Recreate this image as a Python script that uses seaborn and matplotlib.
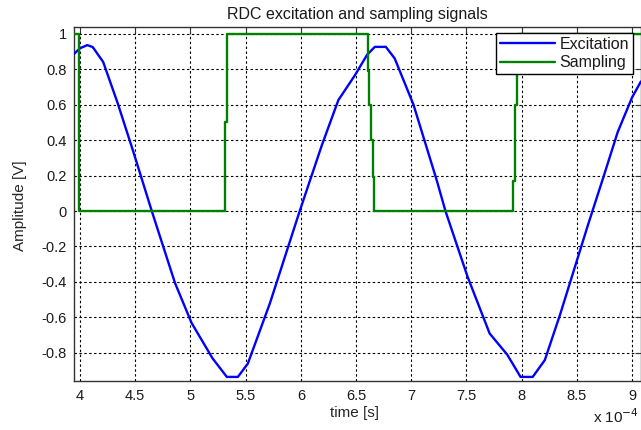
import matplotlib
matplotlib.use("Agg")
import matplotlib.pyplot as plt
from matplotlib.ticker import FuncFormatter
import seaborn as sns
import pandas as pd

# time axis in units of 1e-4 s
exc_t = [3.945, 4.0, 4.066, 4.115, 4.21, 4.34, 4.48, 4.65, 4.86, 5.01, 5.2, 5.33,
         5.43, 5.52, 5.72, 5.99, 6.19, 6.34, 6.49, 6.60, 6.67, 6.77, 6.85, 7.02,
         7.23, 7.31, 7.51, 7.71, 7.87, 7.99, 8.10, 8.21, 8.35, 8.60, 8.74, 8.87,
         9.0, 9.08]
exc_v = [0.885, 0.917, 0.935, 0.924, 0.84, 0.61, 0.34, 0.0, -0.405, -0.63, -0.83, -0.935,
         -0.935, -0.86, -0.52, 0.0, 0.37, 0.625, 0.765, 0.88, 0.925, 0.925, 0.86, 0.6,
         0.175, 0.0, -0.37, -0.69, -0.81, -0.935, -0.935, -0.84, -0.58, -0.08, 0.19, 0.445,
         0.64, 0.73]

samp_t = [3.945, 3.995, 3.995, 5.313, 5.313, 5.329, 5.329, 6.604, 6.604, 6.622, 6.622,
          6.636, 6.636, 6.651, 6.651, 6.663, 6.663, 7.925, 7.925, 7.94, 7.94, 7.955,
          7.955, 7.97, 7.97, 9.08]
samp_v = [1, 1, 0, 0, 0.5, 0.5, 1, 1, 0.79, 0.79, 0.6, 0.6, 0.4, 0.4, 0.19, 0.19, 0,
          0, 0.17, 0.17, 0.6, 0.6, 0.8, 0.8, 1, 1]

x_ticks = [4, 4.5, 5, 5.5, 6, 6.5, 7, 7.5, 8, 8.5, 9]
y_ticks = [-0.8, -0.6, -0.4, -0.2, 0, 0.2, 0.4, 0.6, 0.8, 1]

sns.set_style("white")
plt.rcParams["font.family"] = ["Liberation Sans", "DejaVu Sans"]
plt.rcParams["text.color"] = "#1a1a1a"

df = pd.concat([
    pd.DataFrame({"t": exc_t, "v": exc_v, "signal": "Excitation"}),
    pd.DataFrame({"t": samp_t, "v": samp_v, "signal": "Sampling"}),
], ignore_index=True)

fig = plt.figure(figsize=(6.41, 4.30), dpi=100)
ax = fig.add_axes([74 / 641, 49 / 430, 567 / 641, 354 / 430])

# keep the point order so the vertical edges of the sampling pulse stay intact
sns.lineplot(data=df, x="t", y="v", hue="signal", estimator=None, sort=False,
             palette={"Excitation": "#0000ff", "Sampling": "#008000"},
             linewidth=1.7, ax=ax, zorder=3)

ax.set_xlim(3.9457, 9.081)
ax.set_ylim(-0.958, 1.037)
ax.set_xticks(x_ticks)
ax.set_yticks(y_ticks)
fmt = FuncFormatter(lambda v, p: f"{v:g}")
ax.xaxis.set_major_formatter(fmt)
ax.yaxis.set_major_formatter(fmt)

ax.grid(True, color="black", linestyle=(0, (2.2, 2.2)), linewidth=0.8, zorder=1)
for s in ax.spines.values():
    s.set_color("#333333")
    s.set_linewidth(1.0)
ax.tick_params(direction="in", length=4, width=0.8, color="#333333",
               top=True, right=True, labelsize=10.5, labelcolor="#1a1a1a")
ax.tick_params(axis="y", pad=5)
ax.tick_params(axis="x", pad=6)

ax.set_title("RDC excitation and sampling signals", fontsize=11.5, pad=6)
ax.set_xlabel("time [s]", fontsize=11)
ax.set_ylabel("Amplitude [V]", fontsize=11)
ax.xaxis.set_label_coords(0.495, -0.072)
ax.yaxis.set_label_coords(-0.083, 0.494)

fig.text(639 / 641, 1 - 417 / 430, r"x 10$^{-4}$", fontsize=11, va="center", ha="right")

leg = ax.legend(loc="upper right", bbox_to_anchor=(0.986, 0.983), borderaxespad=0,
                fontsize=11.5, handlelength=3.4, handletextpad=0.3, borderpad=0.25,
                labelspacing=0.2, fancybox=False, framealpha=1, edgecolor="black")
leg.get_frame().set_linewidth(1.0)
for h in leg.get_lines():
    h.set_linewidth(1.7)

fig.savefig("out.png", dpi=100)
